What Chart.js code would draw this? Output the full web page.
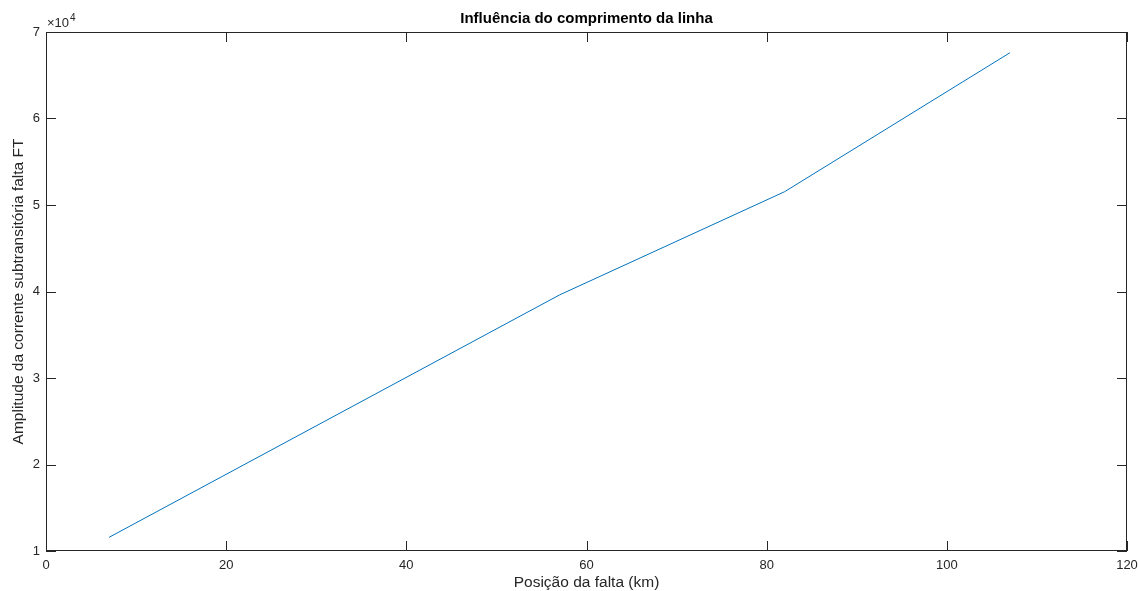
<!DOCTYPE html>
<html>
<head>
<meta charset="utf-8">
<script src="https://cdn.jsdelivr.net/npm/chart.js@4/dist/chart.umd.min.js"></script>
<style>
  body { margin: 0; background: #ffffff; }
  canvas { display: block; }
</style>
</head>
<body>
<canvas id="faltaChart" width="1138" height="591"></canvas>
<script>
// dados
var posicao = [7, 57, 82, 107];                 // km
var corrente = [11580, 39600, 51540, 67600];     // A
var xTicks = [0, 20, 40, 60, 80, 100, 120];
var yTicks = [10000, 20000, 30000, 40000, 50000, 60000, 70000];

var titulo = 'Influência do comprimento da linha';
var eixoX = 'Posição da falta (km)';
var eixoY = 'Amplitude da corrente subtransitória falta FT';

var corEixo = '#262626';
var fonte = 'Arial, "Liberation Sans", Helvetica, sans-serif';

var pontos = posicao.map(function (p, i) {
    return { x: p, y: corrente[i] };
});

// moldura, ticks para dentro, titulo e x10^4 (estilo MATLAB)
var molduraPlugin = {
    id: 'moldura',
    afterDraw: function (chart) {
        var ctx = chart.ctx;
        var a = chart.chartArea;
        var sx = chart.scales.x;
        var sy = chart.scales.y;
        var tl = 10;

        ctx.save();
        ctx.strokeStyle = corEixo;
        ctx.lineWidth = 1;
        ctx.strokeRect(Math.round(a.left) + 0.5, Math.round(a.top) + 0.5,
            Math.round(a.right - a.left) - 1, Math.round(a.bottom - a.top) - 1);

        ctx.beginPath();
        xTicks.forEach(function (v) {
            var px = Math.round(sx.getPixelForValue(v)) + 0.5;
            ctx.moveTo(px, a.bottom);
            ctx.lineTo(px, a.bottom - tl);
            ctx.moveTo(px, a.top);
            ctx.lineTo(px, a.top + tl);
        });
        yTicks.forEach(function (v) {
            var py = Math.round(sy.getPixelForValue(v)) + 0.5;
            ctx.moveTo(a.left, py);
            ctx.lineTo(a.left + tl, py);
            ctx.moveTo(a.right, py);
            ctx.lineTo(a.right - tl, py);
        });
        ctx.stroke();

        // titulo centrado na area do grafico
        ctx.fillStyle = '#000000';
        ctx.font = 'bold 15px ' + fonte;
        ctx.textAlign = 'center';
        ctx.textBaseline = 'middle';
        ctx.fillText(titulo, (a.left + a.right) / 2, 19);

        // expoente do eixo y
        ctx.fillStyle = corEixo;
        ctx.textAlign = 'left';
        ctx.textBaseline = 'alphabetic';
        ctx.font = '13px ' + fonte;
        ctx.fillText('\u00d710', a.left + 1, 27);
        var w = ctx.measureText('\u00d710').width;
        ctx.font = '10px ' + fonte;
        ctx.fillText('4', a.left + 1 + w + 1, 21);
        ctx.restore();
    }
};

var faltachart = document.getElementById('faltaChart');

var faltaChart = new Chart(faltachart, {
    type: 'line',
    data: {
        datasets: [
            {
                label: 'FT',
                data: pontos,
                borderColor: '#0072BD',
                backgroundColor: '#0072BD',
                borderWidth: 1,
                pointRadius: 0,
                tension: 0,
                fill: false
            }
        ]
    },
    options: {
        responsive: false,
        animation: false,
        layout: { padding: { top: 32, right: 11, left: 0, bottom: 0 } },
        plugins: {
            legend: { display: false },
            title: { display: false },
            tooltip: { enabled: false }
        },
        scales: {
            x: {
                type: 'linear',
                min: 0,
                max: 120,
                afterFit: function (scale) {
                    scale.height = 40;
                    scale.paddingLeft = 0;
                    scale.paddingRight = 0;
                },
                afterBuildTicks: function (scale) {
                    scale.ticks = xTicks.map(function (v) { return { value: v }; });
                },
                grid: { display: false, drawTicks: false },
                border: { display: false },
                ticks: {
                    padding: 7,
                    color: corEixo,
                    font: { family: fonte, size: 13 },
                    maxRotation: 0
                },
                title: {
                    display: true,
                    text: eixoX,
                    color: corEixo,
                    font: { family: fonte, size: 15.5 },
                    padding: { top: 0, bottom: -1 }
                }
            },
            y: {
                type: 'linear',
                min: 10000,
                max: 70000,
                afterFit: function (scale) {
                    scale.width = 46;
                    scale.paddingTop = 0;
                    scale.paddingBottom = 0;
                },
                afterBuildTicks: function (scale) {
                    scale.ticks = yTicks.map(function (v) { return { value: v }; });
                },
                grid: { display: false, drawTicks: false },
                border: { display: false },
                ticks: {
                    padding: 6,
                    color: corEixo,
                    font: { family: fonte, size: 13 },
                    callback: function (v) { return String(v / 10000); }
                },
                title: {
                    display: true,
                    text: eixoY,
                    color: corEixo,
                    font: { family: fonte, size: 15.5 },
                    padding: { top: 9, bottom: 0 }
                }
            }
        }
    },
    plugins: [molduraPlugin]
});
</script>
</body>
</html>
